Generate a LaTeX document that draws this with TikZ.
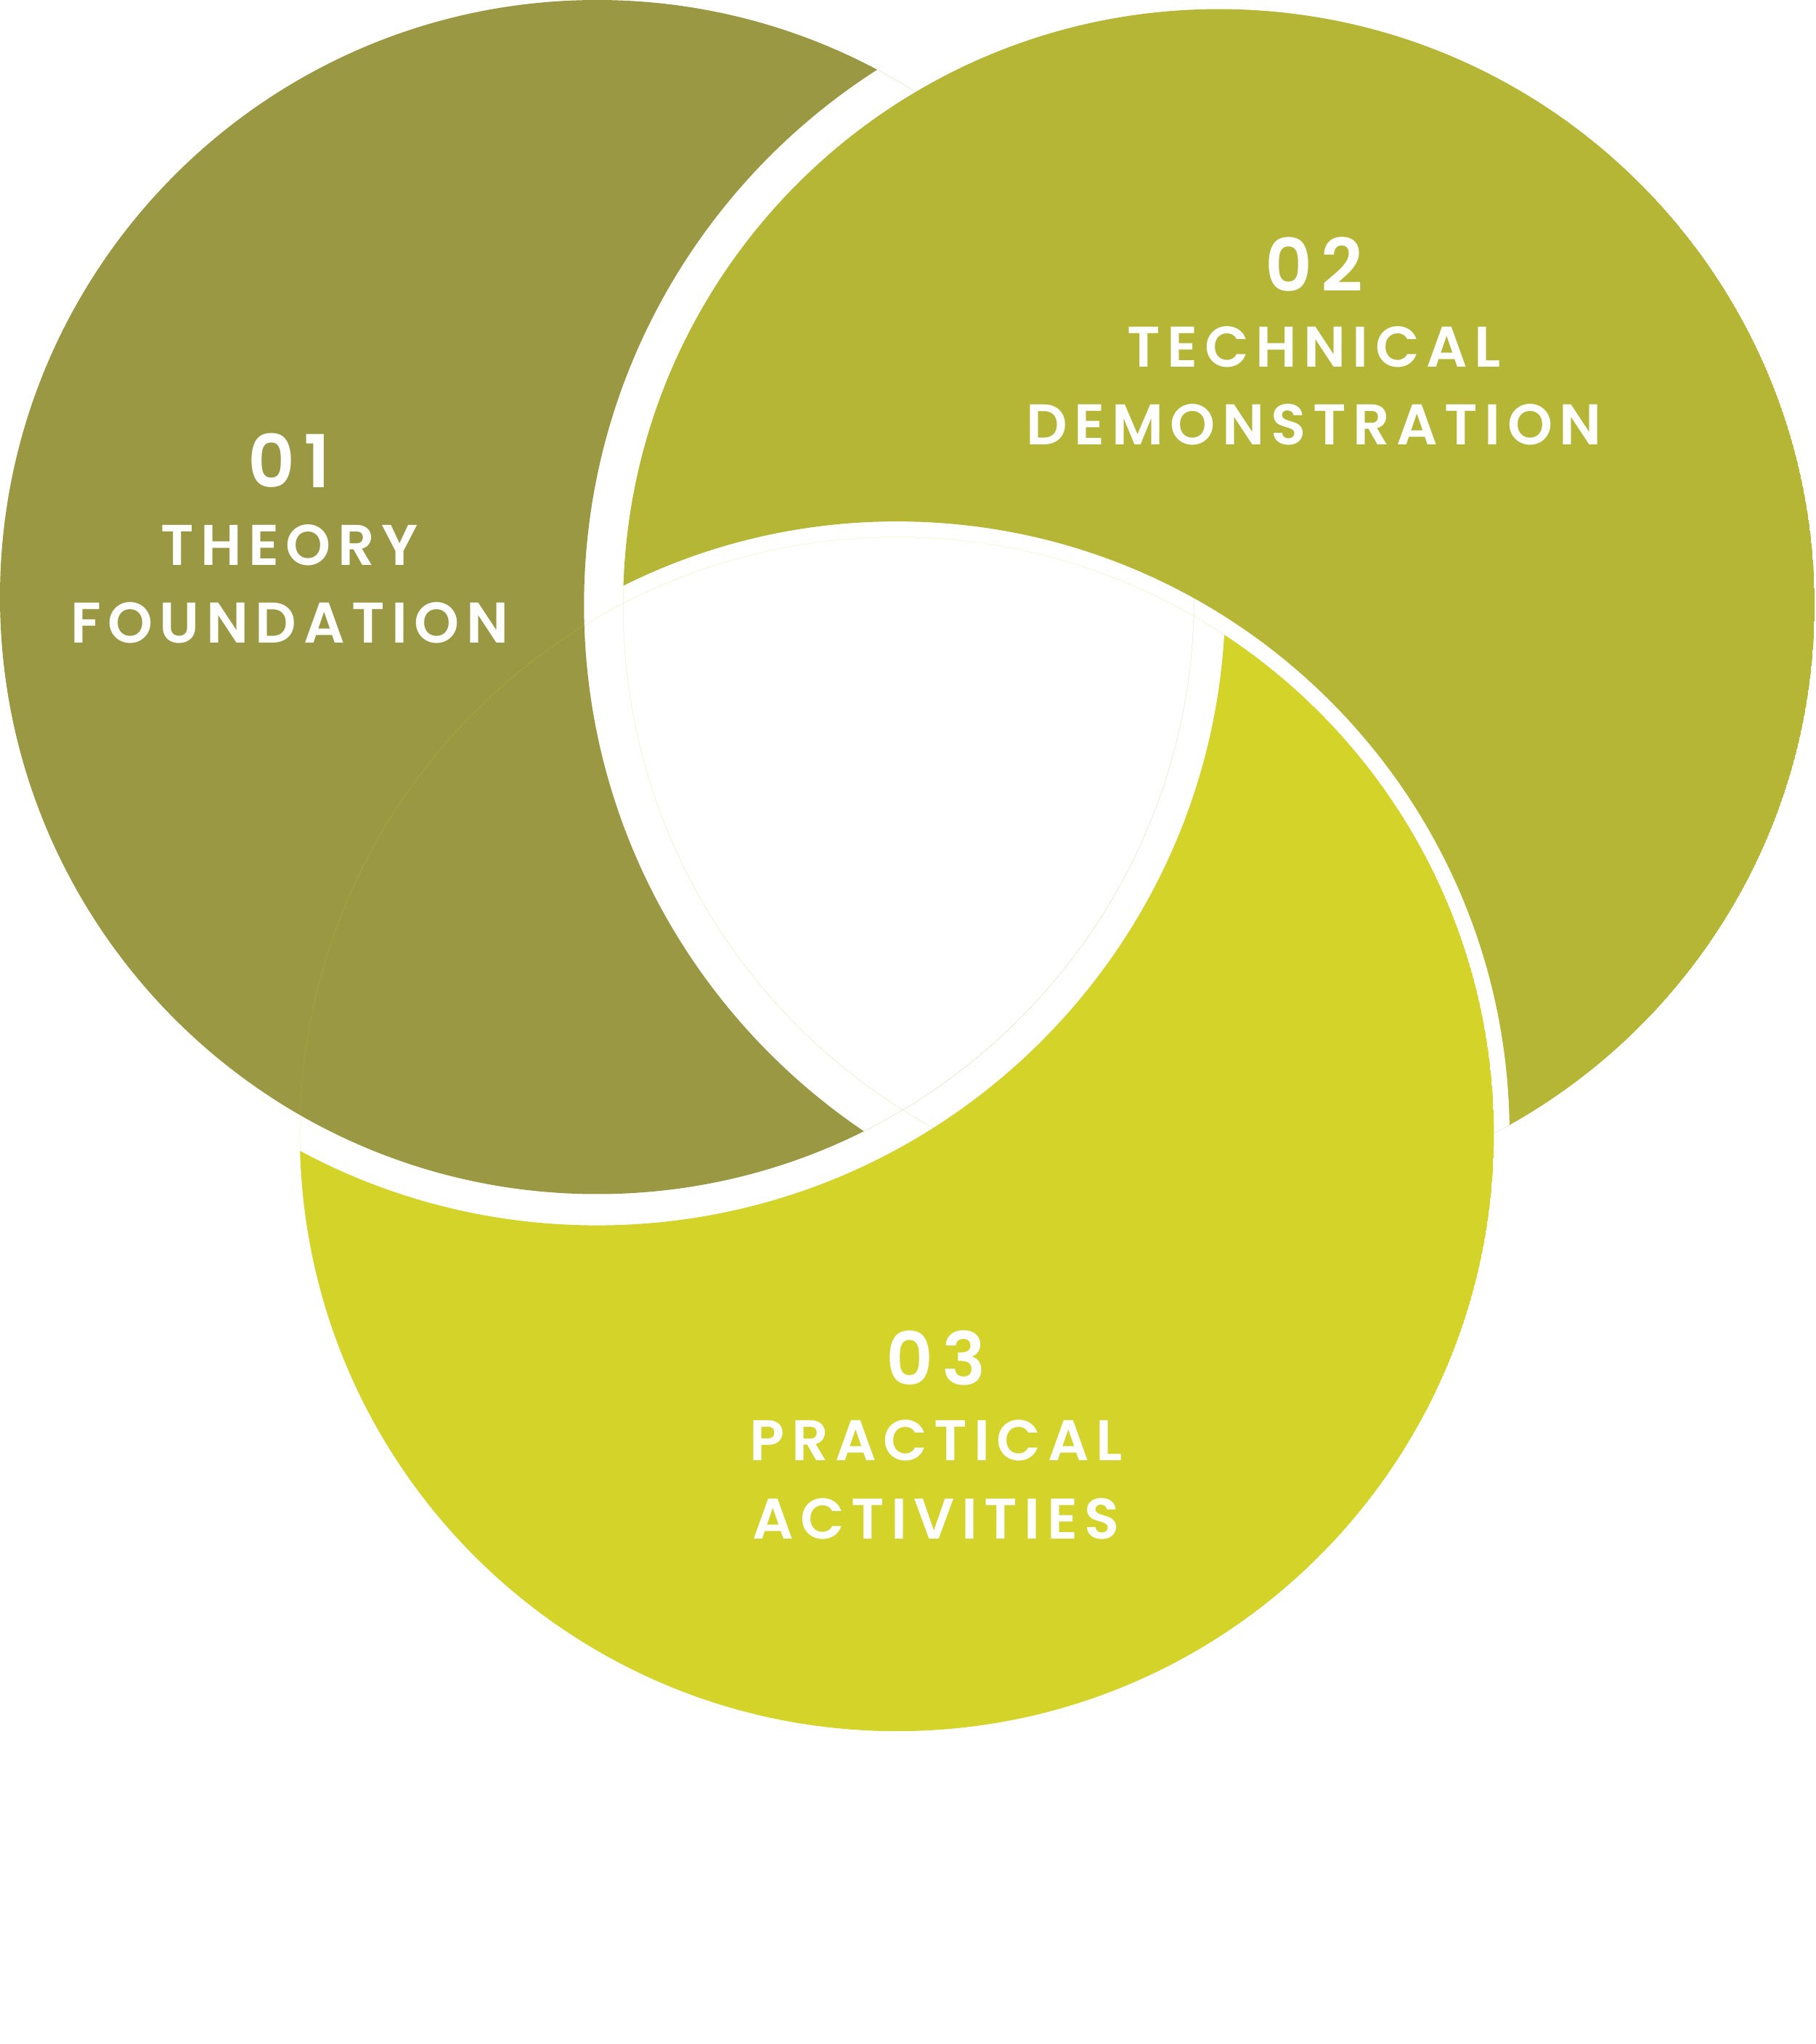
\documentclass[tikz,border=0pt]{standalone}
\usepackage{fontspec}
\newfontfamily\lbl[LetterSpace=12]{Poppins SemiBold}
\definecolor{cA}{HTML}{9A9842}
\definecolor{cB}{HTML}{B5B536}
\definecolor{cC}{HTML}{D3D329}
\tikzset{lab/.style={text=white,align=center,font=\lbl\fontsize{44}{60}\selectfont},
num/.style={text=white,font=\lbl\fontsize{56}{60}\selectfont}}
\begin{document}
\begin{tikzpicture}[x=1pt,y=-1pt]
\useasboundingbox (0,0) rectangle (1393,1568);
\coordinate (A) at (458,458);
\coordinate (B) at (935,464);
\coordinate (C) at (688,870);
\begin{scope}\clip (A) circle (458);
\fill[cA,even odd rule] (A) circle (458) (B) circle (487);\end{scope}
\begin{scope}\clip (B) circle (457);
\fill[cB,even odd rule] (B) circle (457) (C) circle (470);\end{scope}
\begin{scope}\clip (C) circle (458);
\fill[cC,even odd rule] (C) circle (458) (A) circle (482);\end{scope}
\node[num] (n1) at (222,353) {01};
\node[lab] (t1) at (222,448) {THEORY\\FOUNDATION};
\node[num] (n2) at (1008,203) {02};
\node[lab] (t2) at (1008,296) {TECHNICAL\\DEMONSTRATION};
\node[num] (n3) at (718,1042) {03};
\node[lab] (t3) at (718,1135) {PRACTICAL\\ACTIVITIES};
\end{tikzpicture}
\end{document}
